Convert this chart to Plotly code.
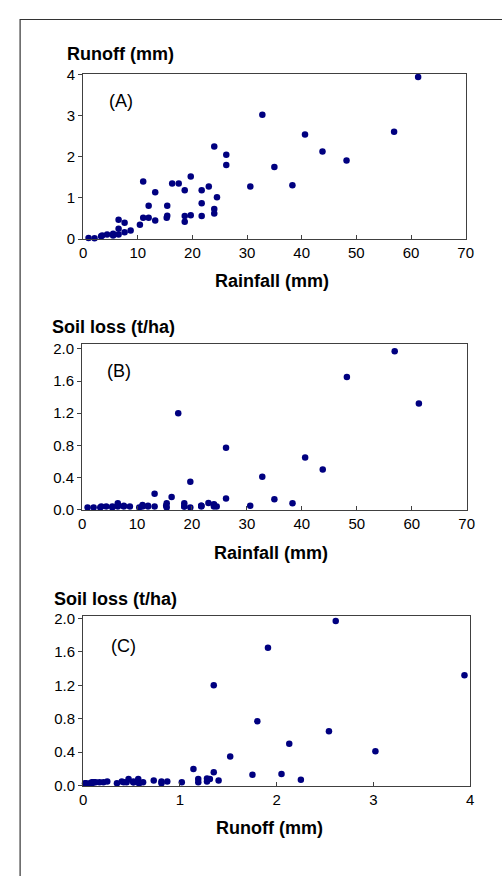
import plotly.graph_objects as go

# ---- data: one record per rainfall event ----
rainfall = [1.0, 2.1, 3.3, 3.5, 4.4, 5.5, 5.5, 6.5, 6.5, 6.5,
            7.6, 7.6, 8.7, 10.4, 11.0, 11.0, 12.0, 12.0, 13.2, 13.2,
            15.3, 15.4, 15.4, 16.3, 17.5, 18.6, 18.6, 18.6, 19.7, 19.7,
            21.7, 21.7, 21.7, 23.0, 24.0, 24.0, 24.0, 24.5, 26.2, 26.2,
            30.6, 32.8, 35.0, 38.3, 40.6, 43.8, 48.2, 56.9, 61.3]
runoff = [0.03, 0.02, 0.07, 0.09, 0.11, 0.13, 0.09, 0.25, 0.11, 0.47,
          0.17, 0.40, 0.21, 0.35, 1.40, 0.52, 0.52, 0.81, 1.14, 0.45,
          0.52, 0.57, 0.81, 1.35, 1.35, 1.19, 0.56, 0.42, 1.52, 0.58,
          1.19, 0.87, 0.56, 1.28, 2.25, 0.73, 0.62, 1.02, 2.05, 1.80,
          1.28, 3.02, 1.75, 1.31, 2.54, 2.13, 1.91, 2.61, 3.94]
soil_loss = [0.03, 0.03, 0.03, 0.04, 0.04, 0.04, 0.03, 0.05, 0.04, 0.08,
             0.04, 0.05, 0.04, 0.03, 0.06, 0.04, 0.04, 0.05, 0.20, 0.04,
             0.05, 0.08, 0.03, 0.16, 1.20, 0.08, 0.04, 0.04, 0.35, 0.03,
             0.04, 0.05, 0.05, 0.085, 0.07, 0.06, 0.04, 0.04, 0.14, 0.77,
             0.05, 0.41, 0.13, 0.08, 0.65, 0.50, 1.65, 1.97, 1.32]

panel_labels = ["(A)", "(B)", "(C)"]
y_titles = ["Runoff (mm)", "Soil loss (t/ha)", "Soil loss (t/ha)"]
x_titles = ["Rainfall (mm)", "Rainfall (mm)", "Runoff (mm)"]

W, H = 502, 876
FONT = "Liberation Sans, Arial, sans-serif"
NAVY = "#000080"
AX = "#404040"


def fx(px):
    return px / W


def fy(py):
    return 1 - py / H


fig = go.Figure()
marker = dict(color=NAVY, size=6.5, symbol="circle", line=dict(width=0))
fig.add_trace(go.Scatter(x=rainfall, y=runoff, mode="markers", marker=marker,
                         xaxis="x", yaxis="y", cliponaxis=False, showlegend=False))
fig.add_trace(go.Scatter(x=rainfall, y=soil_loss, mode="markers", marker=marker,
                         xaxis="x2", yaxis="y2", cliponaxis=False, showlegend=False))
fig.add_trace(go.Scatter(x=runoff, y=soil_loss, mode="markers", marker=marker,
                         xaxis="x3", yaxis="y3", cliponaxis=False, showlegend=False))

common = dict(showline=True, mirror=True, linecolor=AX, linewidth=1,
              showgrid=False, zeroline=False,
              tickfont=dict(family=FONT, size=15, color="black"),
              tickcolor=AX, ticklen=4, tickwidth=1)

# panel boxes in pixels: (left, right, top, bottom)
boxes = [(81, 473, 66.7, 234.7), (80, 474, 341.7, 510.7), (81, 477.7, 619, 792)]

fig.update_layout(
    width=W, height=H, margin=dict(l=0, r=0, t=0, b=0),
    paper_bgcolor="white", plot_bgcolor="white",
    xaxis=dict(domain=[fx(boxes[0][0]), fx(boxes[0][1])], anchor="y",
               range=[0, 70], dtick=10, ticks="inside", **common),
    yaxis=dict(domain=[fy(boxes[0][3]), fy(boxes[0][2])], anchor="x",
               range=[0, 4], dtick=1, ticks="outside", **common),
    xaxis2=dict(domain=[fx(boxes[1][0]), fx(boxes[1][1])], anchor="y2",
                range=[0, 70], dtick=10, ticks="inside", **common),
    yaxis2=dict(domain=[fy(boxes[1][3]), fy(boxes[1][2])], anchor="x2",
                range=[0, 2.06], tick0=0, dtick=0.4, tickformat=".1f",
                ticks="outside", **common),
    xaxis3=dict(domain=[fx(boxes[2][0]), fx(boxes[2][1])], anchor="y3",
                range=[0, 4], dtick=1, ticks="inside", **common),
    yaxis3=dict(domain=[fy(boxes[2][3]), fy(boxes[2][2])], anchor="x3",
                range=[0, 2.03], tick0=0, dtick=0.4, tickformat=".1f",
                ticks="outside", **common),
)

ann = []
# y titles (bold, above each panel, left aligned)
ytitle_pos = [(63, 46), (47, 324), (49, 602)]
for t, (x, y) in zip(y_titles, ytitle_pos):
    ann.append(dict(text="<b>%s</b>" % t, x=fx(x), y=fy(y), xref="paper", yref="paper",
                    xanchor="left", yanchor="middle", showarrow=False,
                    font=dict(family=FONT, size=18, color="black")))
# x titles
xtitle_pos = [(274.5, 277), (273.5, 555), (271.5, 835)]
for t, (x, y) in zip(x_titles, xtitle_pos):
    ann.append(dict(text="<b>%s</b>" % t, x=fx(x), y=fy(y), xref="paper", yref="paper",
                    xanchor="center", yanchor="middle", showarrow=False,
                    font=dict(family=FONT, size=18, color="black")))
# panel labels
plabel_pos = [(120, 94), (118, 369), (122, 650)]
for t, (x, y) in zip(panel_labels, plabel_pos):
    ann.append(dict(text=t, x=fx(x), y=fy(y), xref="paper", yref="paper",
                    xanchor="center", yanchor="middle", showarrow=False,
                    font=dict(family=FONT, size=18, color="black")))
fig.update_layout(annotations=ann)

# outer frame (left and top edges visible)
fig.add_shape(type="rect", xref="paper", yref="paper",
              x0=fx(16.5), x1=1.05, y0=-0.05, y1=fy(10.7),
              line=dict(color="#333333", width=1.2), fillcolor="rgba(0,0,0,0)",
              layer="below")

fig.write_html("out.html",
               config={"displayModeBar": False},
               post_script="document.body.style.margin='0';document.body.style.overflow='hidden';")
